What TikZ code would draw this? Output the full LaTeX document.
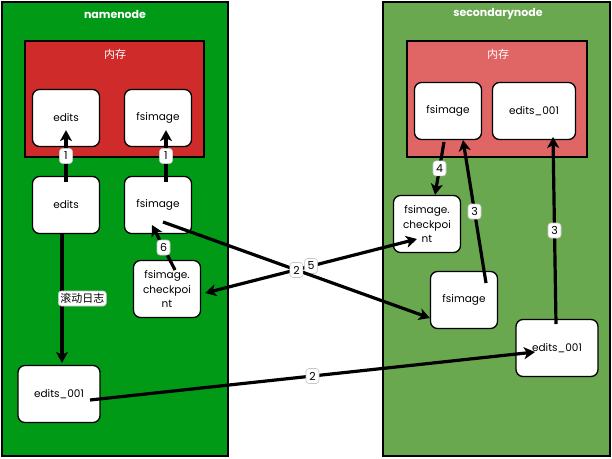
\documentclass[tikz,border=0pt]{standalone}
\usepackage{fontspec}
\setmainfont{Poppins}
\newfontfamily\cjk{Noto Sans CJK SC}
\usetikzlibrary{arrows.meta}
\definecolor{verdeA}{HTML}{009A17}
\definecolor{verdeB}{HTML}{6AA84F}
\definecolor{rojoA}{HTML}{D02B2B}
\definecolor{rojoB}{HTML}{E06666}
\begin{document}
\begin{tikzpicture}[x=1pt,y=-1pt,>={Stealth[length=11pt,width=12pt,inset=3pt]},
    caja/.style={draw,fill=white,rounded corners=7pt,line width=1.3pt,minimum width=67pt,minimum height=57pt,
      font=\fontsize{10.5}{14.5}\selectfont,align=center,inner sep=1pt},
    etiq/.style={draw=gray!45,line width=0.6pt,fill=white,rounded corners=3pt,font=\fontsize{11}{12}\selectfont,
      inner sep=2pt,minimum height=15pt,minimum width=13pt},
    flecha/.style={->,line width=3.2pt},
    titulo/.style={text=white,font=\bfseries\fontsize{11}{13}\selectfont}]
    \useasboundingbox (0,0) rectangle (612,458);

    % Contenedores
    \draw[fill=verdeA,line width=1.5pt] (2,2) rectangle (228,456);
    \draw[fill=verdeB,line width=1.5pt] (383,2) rectangle (610,456);
    \draw[fill=rojoA,line width=1.5pt] (25,41) rectangle (204,157);
    \draw[fill=rojoB,line width=1.5pt] (407,41) rectangle (587,157);
    \node[titulo] (tNN) at (115,14) {namenode};
    \node[titulo] (tSN) at (498,14) {secondarynode};
    \node[text=white,font=\cjk\fontsize{11}{13}\selectfont] (memA) at (115,54) {内存};
    \node[text=white,font=\cjk\fontsize{11}{13}\selectfont] (memB) at (498,54) {内存};

    % Cajas
    \node[caja] (memEdits) at (66,118) {edits};
    \node[caja] (memFs) at (158,118) {fsimage};
    \node[caja] (edits) at (66,205) {edits};
    \node[caja] (fs) at (158,205) {fsimage};
    \node[caja] (ckA) at (167,289) {fsimage.\\checkpoi\\nt};
    \node[caja,minimum width=82pt] (editsA) at (59,394) {edits\_001};
    \node[caja] (memFsB) at (448,111) {fsimage};
    \node[caja,minimum width=83pt] (memEdB) at (534,111) {edits\_001};
    \node[caja] (ckB) at (427,224) {fsimage.\\checkpoi\\nt};
    \node[caja] (fsB) at (464,300) {fsimage};
    \node[caja,minimum width=82pt] (editsB) at (557,348) {edits\_001};

    % Flechas
    \draw[flecha] ([yshift=-6pt]edits.north) -- ([yshift=17pt]memEdits.south)
        node[etiq,pos=0.5] {1};
    \draw[flecha] ([xshift=8pt,yshift=-6pt]fs.north) -- ([xshift=8pt,yshift=17pt]memFs.south)
        node[etiq,pos=0.5] {1};
    \draw[flecha] ([xshift=-4pt]edits.south) -- ([xshift=3pt,yshift=2pt]editsA.north)
        node[etiq,pos=0.5,anchor=west,xshift=-4pt,font=\cjk\fontsize{11}{12}\selectfont] {滚动日志};
    \draw[flecha,<->] ([xshift=4pt,yshift=-4pt]ckA.east) -- ([xshift=-10pt,yshift=-15pt]ckB.center)
        node[etiq,pos=0.5] {5};
    \draw[flecha] ([xshift=5pt,yshift=-17pt]fs.center) -- ([yshift=-18pt]fsB.west)
        node[etiq,pos=0.5] {2};
    \draw[flecha] ([xshift=8pt,yshift=19pt]ckA.center) -- ([xshift=-6pt,yshift=-20pt]fs.center)
        node[etiq,pos=0.5] {6};
    \draw[flecha] ([xshift=-4pt,yshift=-31pt]memFsB.center) -- ([xshift=8pt]ckB.north)
        node[etiq,pos=0.5] {4};
    \draw[flecha] ([xshift=22pt,yshift=17pt]fsB.center) -- ([xshift=15pt,yshift=-29pt]memFsB.center)
        node[etiq,pos=0.5] {3};
    \draw[flecha] ([xshift=-1pt,yshift=24pt]editsB.center) -- ([xshift=19pt,yshift=-26pt]memEdB.center)
        node[etiq,pos=0.5] {3};
    \draw[flecha] ([xshift=31pt,yshift=-6pt]editsA.center) -- ([xshift=-22pt,yshift=-4pt]editsB.center)
        node[etiq,pos=0.5] {2};
\end{tikzpicture}
\end{document}
